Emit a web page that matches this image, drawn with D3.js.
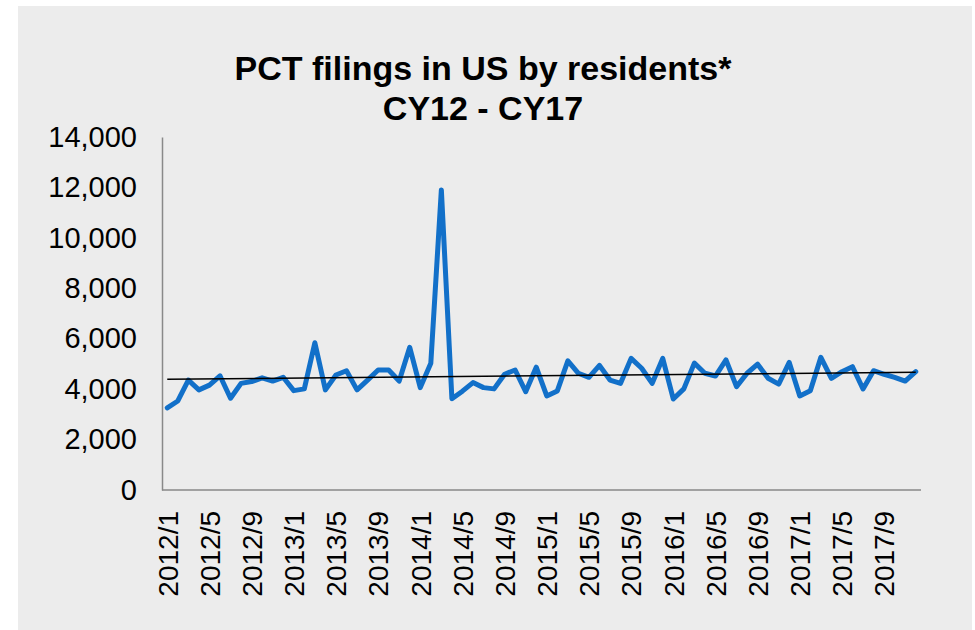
<!DOCTYPE html>
<html>
<head>
<meta charset="utf-8">
<script src="https://cdn.jsdelivr.net/npm/d3@7"></script>
<style>
  body { margin: 0; background: #ffffff; }
  svg text { font-family: "Liberation Sans", Arial, sans-serif; fill: #000; }
</style>
</head>
<body>
<div id="container"></div>
<script>
/* DATA */
const titleLines = ["PCT filings in US by residents*", "CY12 - CY17"];

// monthly categories, 2012/1 .. 2017/12
const months = d3.range(72).map(i => `${2012 + Math.floor(i / 12)}/${(i % 12) + 1}`);

// filings per month
const filings = [
  3260, 3530, 4360, 3970, 4160, 4530, 3640, 4230, 4300, 4450, 4320, 4470,
  3940, 4010, 5840, 3970, 4560, 4730, 3970, 4360, 4760, 4760, 4320, 5660,
  4060, 5030, 11900, 3620, 3920, 4260, 4060, 4010, 4590, 4760, 3900, 4870,
  3730, 3930, 5120, 4630, 4470, 4940, 4360, 4230, 5220, 4830, 4230, 5220,
  3610, 4010, 5030, 4630, 4520, 5160, 4100, 4630, 4990, 4430, 4200, 5060,
  3730, 3940, 5260, 4430, 4690, 4890, 4010, 4730, 4590, 4470, 4320, 4690
];

const yTicks = [0, 2000, 4000, 6000, 8000, 10000, 12000, 14000];
const xTickEvery = 4;

/* LAYOUT */
const width = 975,
      height = 630,
      plot = { left: 162, right: 921, top: 137, bottom: 490 };

const svg = d3.select("#container")
  .append("svg")
  .attr("width", width)
  .attr("height", height);

// grey panel
svg.append("rect")
  .attr("x", 18)
  .attr("y", 6)
  .attr("width", 954)
  .attr("height", 630)
  .attr("fill", "#ececec");

// scales
const xScale = d3.scalePoint()
  .domain(months)
  .range([plot.left, plot.right])
  .padding(0.5);

const yScale = d3.scaleLinear()
  .domain([0, 14000])
  .range([plot.bottom, plot.top]);

// title
svg.append("text")
  .attr("x", 483)
  .attr("y", 80)
  .attr("text-anchor", "middle")
  .style("font-size", "34px")
  .style("font-weight", "bold")
  .selectAll("tspan")
  .data(titleLines)
  .join("tspan")
  .attr("x", 483)
  .attr("dy", (d, i) => i === 0 ? 0 : 40)
  .text(d => d);

// y axis
const yAxis = d3.axisLeft(yScale)
  .tickValues(yTicks)
  .tickSize(0)
  .tickPadding(25)
  .tickFormat(d3.format(","));

svg.append("g")
  .attr("transform", `translate(${plot.left},0)`)
  .call(yAxis)
  .call(g => g.select(".domain").attr("stroke", "#898989").attr("stroke-width", 1.5))
  .selectAll("text")
  .style("font-size", "29px");

// x axis
const xAxis = d3.axisBottom(xScale)
  .tickValues(months.filter((d, i) => i % xTickEvery === 0))
  .tickSize(0)
  .tickSizeOuter(0);

svg.append("g")
  .attr("transform", `translate(0,${plot.bottom})`)
  .call(xAxis)
  .call(g => g.select(".domain")
    .attr("d", `M${plot.left},0H${plot.right}`)
    .attr("stroke", "#898989")
    .attr("stroke-width", 1.5))
  .selectAll("text")
  .style("font-size", "28px")
  .attr("transform", "rotate(-90)")
  .attr("x", -21)
  .attr("y", 0)
  .attr("dy", "0.35em")
  .style("text-anchor", "end");

// series line
const line = d3.line()
  .x((d, i) => xScale(months[i]))
  .y(d => yScale(d));

svg.append("path")
  .datum(filings)
  .attr("fill", "none")
  .attr("stroke", "#1270c9")
  .attr("stroke-width", 5)
  .attr("stroke-linejoin", "round")
  .attr("stroke-linecap", "round")
  .attr("d", line);

// linear trendline (least squares, like the spreadsheet one)
const n = filings.length,
      xs = d3.range(n),
      mx = d3.mean(xs),
      my = d3.mean(filings),
      slope = d3.sum(xs, i => (i - mx) * (filings[i] - my)) / d3.sum(xs, i => (i - mx) ** 2),
      intercept = my - slope * mx;

svg.append("line")
  .attr("x1", xScale(months[0]))
  .attr("y1", yScale(intercept))
  .attr("x2", xScale(months[n - 1]))
  .attr("y2", yScale(intercept + slope * (n - 1)))
  .attr("stroke", "#000")
  .attr("stroke-width", 1.5);
</script>
</body>
</html>
